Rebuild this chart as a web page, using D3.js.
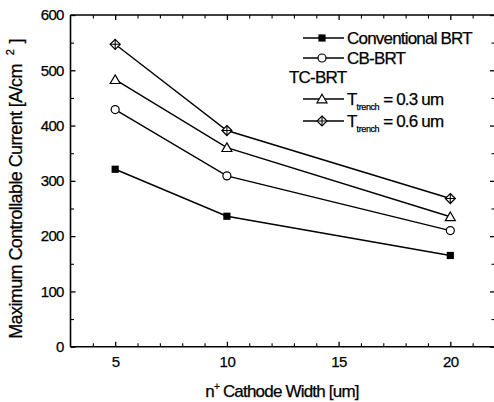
<!DOCTYPE html>
<html><head><meta charset="utf-8">
<script src="https://cdn.jsdelivr.net/npm/d3@7"></script>
<style>
html,body{margin:0;padding:0;background:#fff;}
svg text{font-family:"Liberation Sans",Arial,sans-serif;fill:#000;stroke:#000;stroke-width:0.25;}
</style></head>
<body>
<svg id="c" width="494" height="402"></svg>
<script>
const widths = [5, 10, 20];
const conventional = [321, 236, 165];
const cbBrt = [429, 309, 210];
const tc03 = [483, 360, 235];
const tc06 = [547, 391, 268];
const xTicks = [5, 10, 15, 20];
const yTicks = [0, 100, 200, 300, 400, 500, 600];

const svg = d3.select("#c");
const L = 70.5, R = 495, T = 15, B = 346.7;
const x = d3.scaleLinear().domain([3, 22]).range([L, R]);
const y = d3.scaleLinear().domain([0, 600]).range([B, T]);

// frame
const g = svg.append("g");
g.append("line").attr("x1",L).attr("x2",L).attr("y1",T).attr("y2",B).attr("stroke","#000").attr("stroke-width",1.6);
g.append("line").attr("x1",L).attr("x2",R).attr("y1",B).attr("y2",B).attr("stroke","#000").attr("stroke-width",1.6);
g.append("line").attr("x1",L).attr("x2",R).attr("y1",T).attr("y2",T).attr("stroke","#000").attr("stroke-width",1.6);
g.append("line").attr("x1",R).attr("x2",R).attr("y1",T).attr("y2",B).attr("stroke","#000").attr("stroke-width",1.6);

const xMinor = d3.range(4, 22, 1);
const yMinor = d3.range(50, 600, 100);

// bottom axis
const bx = svg.append("g").attr("transform",`translate(0,${B})`)
  .call(d3.axisBottom(x).tickValues(xTicks).tickSize(-5).tickPadding(10).tickFormat(d3.format("d")));
bx.select(".domain").remove();
bx.selectAll("text").attr("font-size",15).attr("letter-spacing","-0.5");
bx.selectAll("line").attr("stroke-width",1.3);
svg.append("g").attr("transform",`translate(0,${B})`)
  .call(d3.axisBottom(x).tickValues(xMinor.filter(v=>!xTicks.includes(v))).tickSize(-3.5).tickFormat(""))
  .call(s=>{s.select(".domain").remove();s.selectAll("line").attr("stroke-width",1.1);});
// top axis
svg.append("g").attr("transform",`translate(0,${T})`)
  .call(d3.axisTop(x).tickValues(xTicks).tickSize(-5).tickFormat(""))
  .call(s=>{s.select(".domain").remove();s.selectAll("line").attr("stroke-width",1.3);});
svg.append("g").attr("transform",`translate(0,${T})`)
  .call(d3.axisTop(x).tickValues(xMinor.filter(v=>!xTicks.includes(v))).tickSize(-3.5).tickFormat(""))
  .call(s=>{s.select(".domain").remove();s.selectAll("line").attr("stroke-width",1.1);});

// left axis
const ly = svg.append("g").attr("transform",`translate(${L},0)`)
  .call(d3.axisLeft(y).tickValues(yTicks).tickSize(-5).tickPadding(7).tickFormat(d3.format("d")));
ly.select(".domain").remove();
ly.selectAll("text").attr("font-size",15).attr("letter-spacing","-0.8");
ly.selectAll("line").attr("stroke-width",1.3);
svg.append("g").attr("transform",`translate(${L},0)`)
  .call(d3.axisLeft(y).tickValues(yMinor).tickSize(-3.5).tickFormat(""))
  .call(s=>{s.select(".domain").remove();s.selectAll("line").attr("stroke-width",1.1);});
// right axis
svg.append("g").attr("transform",`translate(${R},0)`)
  .call(d3.axisRight(y).tickValues(yTicks).tickSize(-5).tickFormat(""))
  .call(s=>{s.select(".domain").remove();s.selectAll("line").attr("stroke-width",1.3);});
svg.append("g").attr("transform",`translate(${R},0)`)
  .call(d3.axisRight(y).tickValues(yMinor).tickSize(-3.5).tickFormat(""))
  .call(s=>{s.select(".domain").remove();s.selectAll("line").attr("stroke-width",1.1);});

// axis titles
svg.append("text").attr("x",282).attr("y",397).attr("text-anchor","middle")
  .attr("font-size",17).attr("letter-spacing","-0.8")
  .html('n<tspan font-size="10" dy="-7">+</tspan><tspan dy="7"> Cathode Width [um]</tspan>');
const yt = svg.append("text").attr("transform","translate(22,189) rotate(-90)").attr("text-anchor","middle")
  .attr("font-size",18).attr("letter-spacing","-0.6");
yt.append("tspan").text("Maximum Controllable Current [A/cm");
yt.append("tspan").attr("font-size",11).attr("dy",-8).attr("dx",9).text("2");
yt.append("tspan").attr("dy",8).attr("dx",6).text("]");

// markers
function drawMarker(sel, type, cx, cy){
  if(type==="square"){
    sel.append("rect").attr("x",cx-3.6).attr("y",cy-3.6).attr("width",7.2).attr("height",7.2).attr("fill","#000");
  } else if(type==="circle"){
    sel.append("circle").attr("cx",cx).attr("cy",cy).attr("r",4).attr("fill","#fff").attr("stroke","#000").attr("stroke-width",1.2);
  } else if(type==="triangle"){
    sel.append("path").attr("d",`M${cx},${cy-4.8}L${cx+5},${cy+3.8}L${cx-5},${cy+3.8}Z`).attr("fill","#fff").attr("stroke","#000").attr("stroke-width",1.2);
  } else {
    sel.append("path").attr("d",`M${cx},${cy-5}L${cx+5},${cy}L${cx},${cy+5}L${cx-5},${cy}Z`).attr("fill","#fff").attr("stroke","#000").attr("stroke-width",1.2);
    sel.append("path").attr("d",`M${cx-5},${cy}L${cx+5},${cy}M${cx},${cy-5}L${cx},${cy+5}`).attr("stroke","#000").attr("stroke-width",1.1);
  }
}

const series = [
  {name:"conv", vals:conventional, m:"square"},
  {name:"cb", vals:cbBrt, m:"circle"},
  {name:"tc03", vals:tc03, m:"triangle"},
  {name:"tc06", vals:tc06, m:"diamond"}
];
const line = d3.line().x(d=>x(d[0])).y(d=>y(d[1]));
series.forEach(s=>{
  const pts = widths.map((w,i)=>[w,s.vals[i]]);
  svg.append("path").attr("d",line(pts)).attr("fill","none").attr("stroke","#000").attr("stroke-width",1.4);
  const mg = svg.append("g");
  pts.forEach(p=>drawMarker(mg, s.m, x(p[0]), y(p[1])));
});

// legend
const lg = svg.append("g");
function legItem(yy, type){
  lg.append("line").attr("x1",303).attr("x2",344).attr("y1",yy).attr("y2",yy).attr("stroke","#000").attr("stroke-width",1.3);
  drawMarker(lg, type, 322, yy);
}
legItem(38,"square");
lg.append("text").attr("x",347).attr("y",44).attr("font-size",17).attr("letter-spacing","-0.8").text("Conventional BRT");
legItem(58,"circle");
lg.append("text").attr("x",347).attr("y",64).attr("font-size",17).attr("letter-spacing","-0.8").text("CB-BRT");
lg.append("text").attr("x",289).attr("y",83).attr("font-size",17).attr("letter-spacing","-0.8").text("TC-BRT");
legItem(99,"triangle");
lg.append("text").attr("x",347).attr("y",105).attr("font-size",17).attr("letter-spacing","-0.8")
  .html('T<tspan font-size="9" dy="5" letter-spacing="-0.4">trench</tspan><tspan dy="-5"> = 0.3 um</tspan>');
legItem(121,"diamond");
lg.append("text").attr("x",347).attr("y",127).attr("font-size",17).attr("letter-spacing","-0.8")
  .html('T<tspan font-size="9" dy="5" letter-spacing="-0.4">trench</tspan><tspan dy="-5"> = 0.6 um</tspan>');
</script>
</body></html>
